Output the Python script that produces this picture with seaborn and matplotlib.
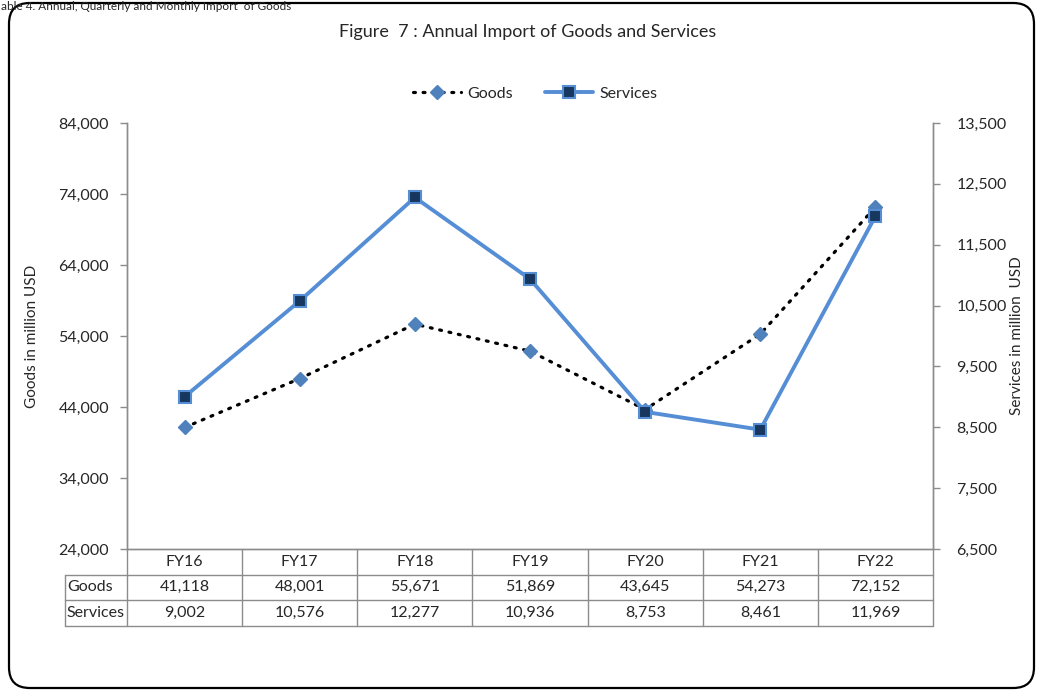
import numpy as np
import pandas as pd
import matplotlib
matplotlib.use("Agg")
import matplotlib.pyplot as plt
import seaborn as sns
from matplotlib.patches import FancyBboxPatch
from matplotlib.lines import Line2D
from matplotlib.ticker import FuncFormatter

# Data
years = ['FY16', 'FY17', 'FY18', 'FY19', 'FY20', 'FY21', 'FY22']
goods = [41118, 48001, 55671, 51869, 43645, 54273, 72152]
services = [9002, 10576, 12277, 10936, 8753, 8461, 11969]

sns.set_style("white")
plt.rcParams['font.family'] = ['Lato', 'DejaVu Sans']
plt.rcParams['axes.unicode_minus'] = False

df = pd.DataFrame({'pos': np.arange(len(years)), 'Goods': goods, 'Services': services})

fig = plt.figure(figsize=(10.38, 6.96), dpi=100)
W, H = 1038, 696
ax = fig.add_axes([127 / W, 1 - 549 / H, (933 - 127) / W, (549 - 123) / H])
ax2 = ax.twinx()

grey = '#8C8C8C'
line_blue = '#558ED5'
diamond_blue = '#4F81BD'
navy = '#17375E'
fs = 11.5

# Goods: dotted black line with blue diamonds
sns.lineplot(data=df, x='pos', y='Goods', ax=ax, color='black', lw=2.3,
             linestyle=(0, (0.6, 2.4)), dash_capstyle='round', zorder=3)
ax.plot(df['pos'], df['Goods'], ls='none', marker='D', ms=7.5, color=diamond_blue,
        markeredgecolor=diamond_blue, zorder=4)

# Services: solid blue line with navy squares
sns.lineplot(data=df, x='pos', y='Services', ax=ax2, color=line_blue, lw=2.8,
             marker='s', markersize=9, markerfacecolor=navy,
             markeredgecolor=line_blue, markeredgewidth=1.5, zorder=5)

ax.set_xlim(-0.5, len(years) - 0.5)
ax.set_ylim(24000, 84000)
ax.set_yticks(np.arange(24000, 84001, 10000))
ax2.set_ylim(6500, 13500)
ax2.set_yticks(np.arange(6500, 13501, 1000))
fmt = FuncFormatter(lambda v, p: f'{int(v):,}')
ax.yaxis.set_major_formatter(fmt)
ax2.yaxis.set_major_formatter(fmt)
ax.set_xticks([])
ax.set_xlabel('')
ax2.set_xlabel('')
ax.set_ylabel('Goods in million USD', fontsize=fs - 0.5, labelpad=14)
ax2.set_ylabel('Services in million  USD', fontsize=fs - 0.5, labelpad=2)

for a in (ax, ax2):
    a.tick_params(axis='y', length=5, width=1, color=grey, labelsize=fs)
    a.spines['top'].set_visible(False)
    for s in ('left', 'right', 'bottom'):
        a.spines[s].set_color(grey)
        a.spines[s].set_linewidth(1)
ax.tick_params(axis='y', pad=8)
ax2.tick_params(axis='y', pad=12)

# Data table below the plot
n = len(years)
row_h = 25.5 / (549 - 123)
lab_left = -62 / (933 - 127)
tk = dict(transform=ax.transAxes, clip_on=False, color=grey, lw=1)
for k in range(n + 1):
    x = k / n
    ax.add_line(Line2D([x, x], [0, -3 * row_h], **tk))
ax.add_line(Line2D([lab_left, lab_left], [-row_h, -3 * row_h], **tk))
for r in (1, 2, 3):
    ax.add_line(Line2D([lab_left, 1], [-r * row_h, -r * row_h], **tk))
for i, yr in enumerate(years):
    xc = (i + 0.5) / n
    ax.text(xc, -0.5 * row_h, yr, transform=ax.transAxes, ha='center', va='center', fontsize=fs)
    ax.text(xc, -1.5 * row_h, f'{goods[i]:,}', transform=ax.transAxes, ha='center', va='center', fontsize=fs)
    ax.text(xc, -2.5 * row_h, f'{services[i]:,}', transform=ax.transAxes, ha='center', va='center', fontsize=fs)
ax.text(lab_left + 0.003, -1.5 * row_h, 'Goods', transform=ax.transAxes, ha='left', va='center', fontsize=fs)
ax.text(lab_left + 0.002, -2.5 * row_h, 'Services', transform=ax.transAxes, ha='left', va='center', fontsize=fs)

# Legend
handles = [
    Line2D([], [], color='black', lw=2.3, linestyle=(0, (0.6, 2.4)), dash_capstyle='round',
           marker='D', ms=7.5, markerfacecolor=diamond_blue, markeredgecolor=diamond_blue),
    Line2D([], [], color=line_blue, lw=2.8, marker='s', ms=9, markerfacecolor=navy,
           markeredgecolor=line_blue, markeredgewidth=1.5),
]
fig.legend(handles, ['Goods', 'Services'], loc='center', bbox_to_anchor=(535 / W, 1 - 94 / H),
           ncol=2, frameon=False, fontsize=fs, handlelength=3, columnspacing=2.0, handletextpad=0.4)

# Title and header
fig.text(528 / W, 1 - 32 / H, 'Figure  7 : Annual Import of Goods and Services',
         ha='center', va='center', fontsize=13)
fig.text(1 / W, 1 - 1 / H, 'able 4. Annual, Quarterly and Monthly Import  of Goods',
         ha='left', va='top', fontsize=8.5)

# Rounded chart frame
frame = FancyBboxPatch((9 / W, 8 / H), (1034 - 9) / W, (693 - 8) / H,
                       boxstyle='round,pad=0,rounding_size=0.02', transform=fig.transFigure,
                       fill=False, edgecolor='black', lw=1.6, mutation_aspect=W / H)
fig.patches.append(frame)

plt.savefig('out.png', dpi=100)
